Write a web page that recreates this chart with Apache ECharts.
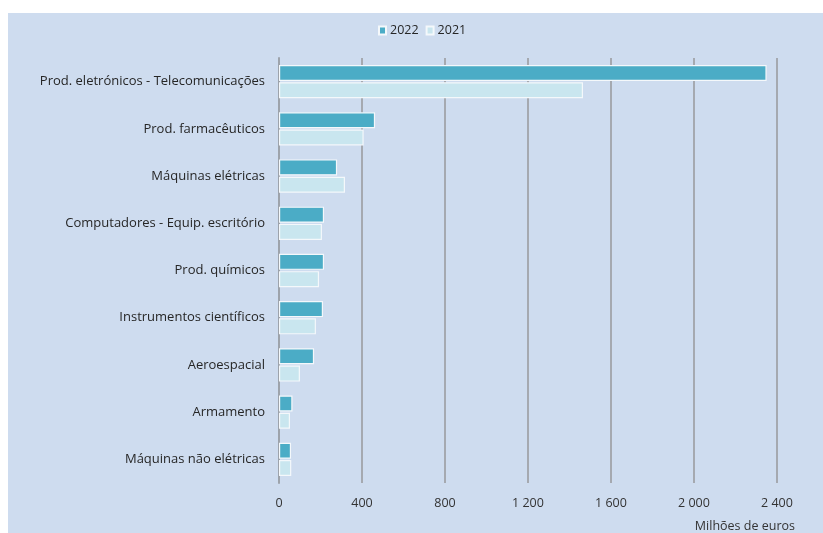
<!DOCTYPE html>
<html><head><meta charset="utf-8">
<script src="https://cdn.jsdelivr.net/npm/echarts@6/dist/echarts.min.js"></script>
<style>html,body{margin:0;padding:0;background:#fff}#c{width:823px;height:533px}</style>
</head><body><div id="c"></div>
<script>
const categories = ["Prod. eletrónicos - Telecomunicações","Prod. farmacêuticos","Máquinas elétricas","Computadores - Equip. escritório","Prod. químicos","Instrumentos científicos","Aeroespacial","Armamento","Máquinas não elétricas"];
const values2022 = [2350, 463, 280, 217, 217, 212, 169, 65, 58];
const values2021 = [1465, 408, 318, 207, 193, 178, 101, 53, 59];
const seriesNames = ["2022", "2021"];
const xTicks = {min: 0, max: 2400, interval: 400};
const unitLabel = "Milhões de euros";

const font = "'Open Sans', 'Liberation Sans', Arial, sans-serif";
const chart = echarts.init(document.getElementById('c'));
chart.setOption({
  animation: false,
  textStyle: {fontFamily: font},
  graphic: [
    {type: 'rect', z: -10, shape: {x: 8, y: 13, width: 815, height: 520}, style: {fill: '#cedcef'}},
    {type: 'text', right: 28, top: 520, style: {text: unitLabel, font: '12.5px ' + font, fill: '#333'}}
  ],
  legend: {
    top: 19, left: 373, itemWidth: 7, itemHeight: 8, itemGap: 7,
    icon: 'rect',
    textStyle: {fontSize: 12.5, color: '#262626', fontFamily: font, padding: [0,0,0,-1]},
    data: seriesNames
  },
  grid: {left: 279, right: 46, top: 58, bottom: 50, containLabel: false},
  xAxis: {
    type: 'value', min: xTicks.min, max: xTicks.max, interval: xTicks.interval,
    axisLine: {show: false}, axisTick: {show: false},
    splitLine: {lineStyle: {color: '#a5a9b0', width: 2}},
    axisLabel: {margin: 14, fontSize: 12.5, color: '#333', fontFamily: font,
      formatter: v => String(v).replace(/\B(?=(\d{3})+(?!\d))/g, ' ')}
  },
  yAxis: {
    type: 'category', inverse: true, data: categories,
    axisLine: {lineStyle: {color: '#9da3ab', width: 2}},
    axisTick: {show: true, length: 0},
    axisLabel: {margin: 14, fontSize: 13, color: '#262626', fontFamily: font, padding: [3,0,0,0]}
  },
  series: [
    {name: seriesNames[0], type: 'bar', data: values2022, barWidth: 16, barGap: '8%',
     itemStyle: {color: '#4bacc6', borderColor: '#f4f8fb', borderWidth: 1.2}},
    {name: seriesNames[1], type: 'bar', data: values2021, barWidth: 16, barGap: '8%',
     itemStyle: {color: '#c9e6ef', borderColor: '#f4f8fb', borderWidth: 1.2}}
  ]
});
</script></body></html>
